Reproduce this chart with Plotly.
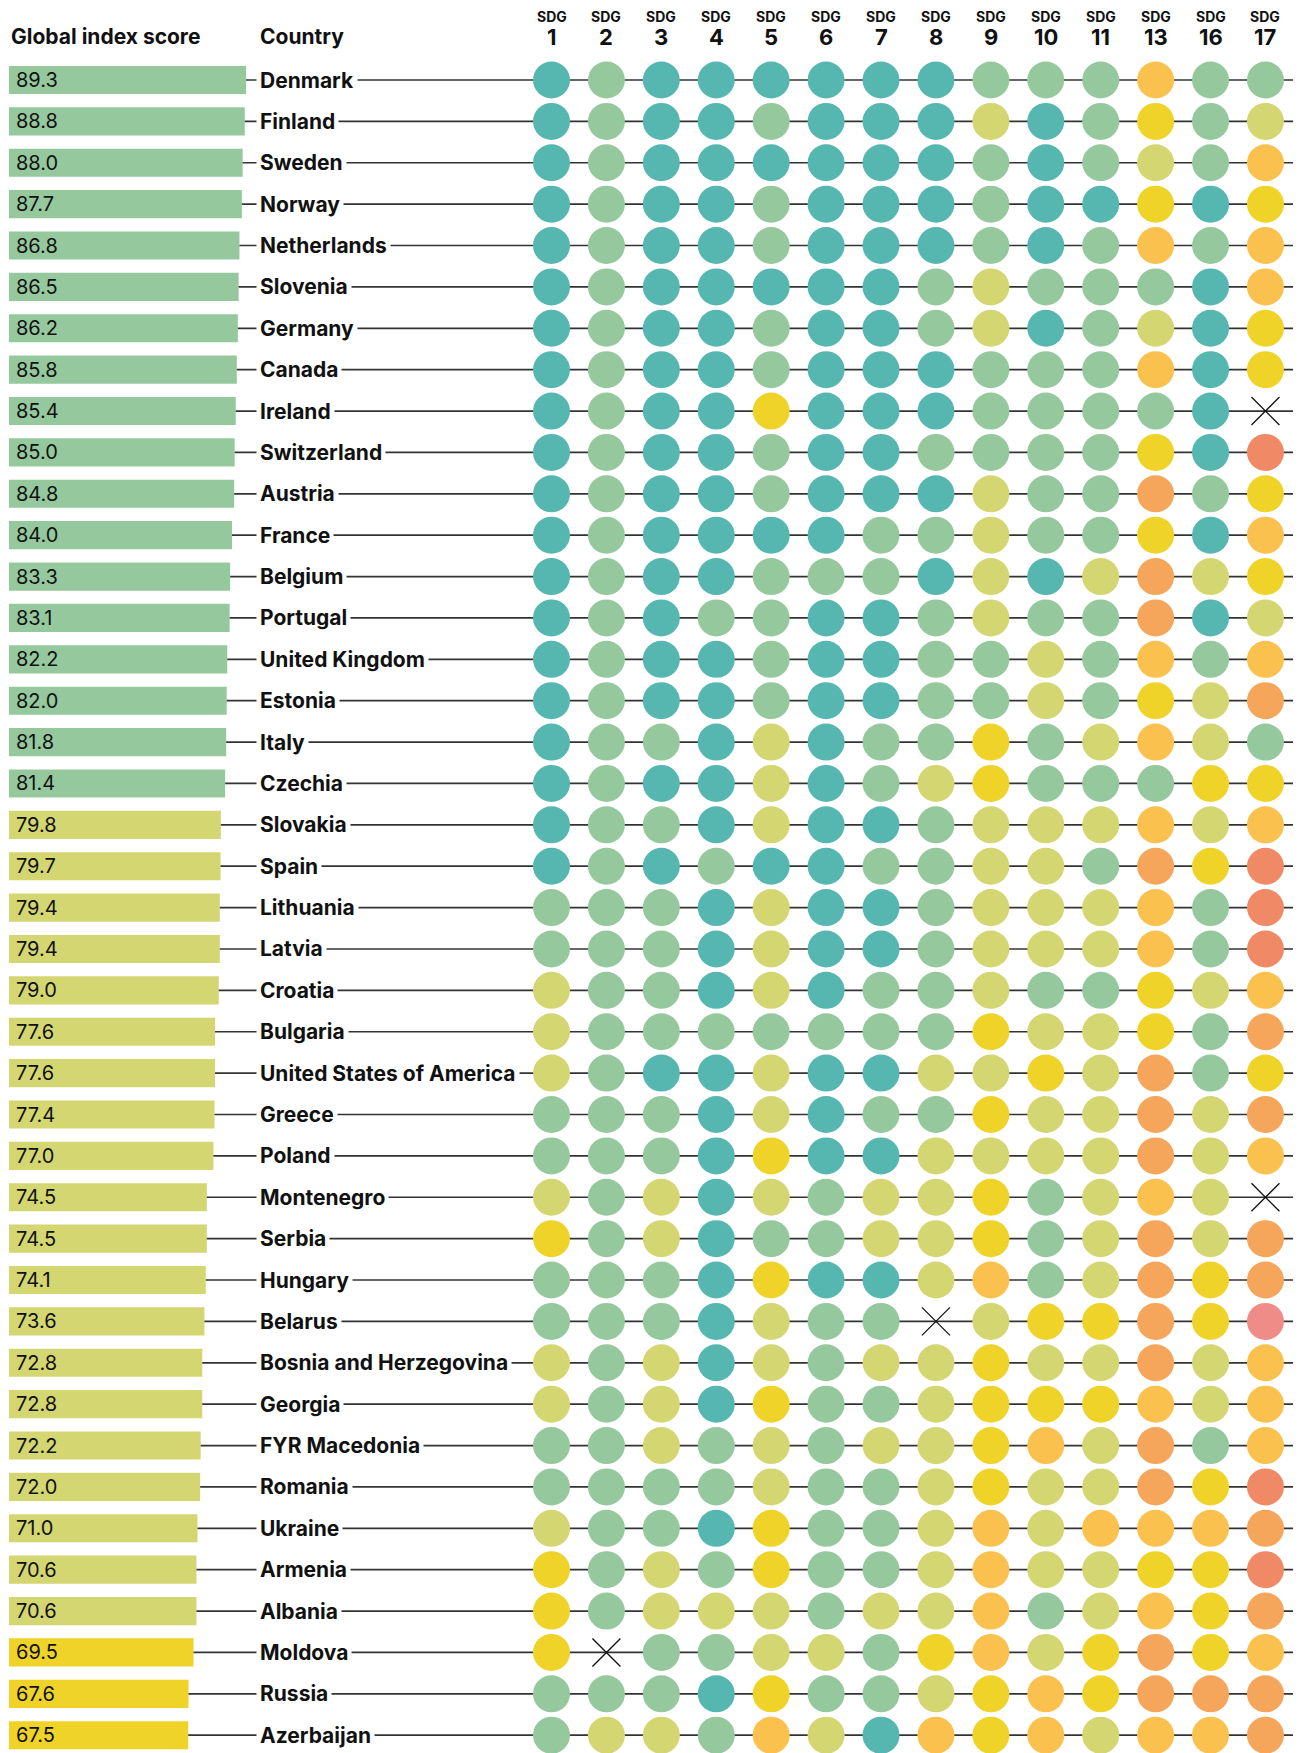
"""SDG index dashboard: global score bars and per-goal rating dots."""
import plotly.graph_objects as go

countries = [
    "Denmark", "Finland", "Sweden", "Norway", "Netherlands", "Slovenia",
    "Germany", "Canada", "Ireland", "Switzerland", "Austria", "France",
    "Belgium", "Portugal", "United Kingdom", "Estonia", "Italy", "Czechia",
    "Slovakia", "Spain", "Lithuania", "Latvia", "Croatia", "Bulgaria",
    "United States of America", "Greece", "Poland", "Montenegro", "Serbia",
    "Hungary", "Belarus", "Bosnia and Herzegovina", "Georgia", "FYR Macedonia",
    "Romania", "Ukraine", "Armenia", "Albania", "Moldova", "Russia", "Azerbaijan",
]
scores = [
    89.3, 88.8, 88.0, 87.7, 86.8, 86.5, 86.2, 85.8, 85.4, 85.0, 84.8, 84.0,
    83.3, 83.1, 82.2, 82.0, 81.8, 81.4, 79.8, 79.7, 79.4, 79.4, 79.0, 77.6,
    77.6, 77.4, 77.0, 74.5, 74.5, 74.1, 73.6, 72.8, 72.8, 72.2, 72.0, 71.0,
    70.6, 70.6, 69.5, 67.6, 67.5,
]
sdg_labels = ["1", "2", "3", "4", "5", "6", "7", "8", "9", "10", "11", "13", "16", "17"]

# one letter per goal, in sdg_labels order; X = no data
sdg_ratings = [
    "TGTTTTTTGGGOGG",  # Denmark
    "TGTTGTTTYTGZGY",  # Finland
    "TGTTTTTTGTGYGO",  # Sweden
    "TGTTGTTTGTTZTZ",  # Norway
    "TGTTGTTTGTGOGO",  # Netherlands
    "TGTTTTTGYGGGTO",  # Slovenia
    "TGTTGTTGYTGYTZ",  # Germany
    "TGTTGTTTGGGOTZ",  # Canada
    "TGTTZTTTGGGGTX",  # Ireland
    "TGTTGTTGGGGZTR",  # Switzerland
    "TGTTGTTTYGGPGZ",  # Austria
    "TGTTTTGGYGGZTO",  # France
    "TGTTGGGTYTYPYZ",  # Belgium
    "TGTGGTTGYGGPTY",  # Portugal
    "TGTTGTTGGYGOGO",  # United Kingdom
    "TGTTGTTGGYGZYP",  # Estonia
    "TGGTYTGGZGYOYG",  # Italy
    "TGTTYTGYZGGGZZ",  # Czechia
    "TGGTYTTGYYYOYO",  # Slovakia
    "TGTGTTGGYYGPZR",  # Spain
    "GGGTYTTGYYYOGR",  # Lithuania
    "GGGTYTTGYYYOGR",  # Latvia
    "YGGTYTGGYGGZYO",  # Croatia
    "YGGGGGGGZYYZGP",  # Bulgaria
    "YGTTYTTYYZYPGZ",  # United States of America
    "GGGTYTGGZYYPYP",  # Greece
    "GGGTZTTYYYYPYO",  # Poland
    "YGYTYGYYZGYOYX",  # Montenegro
    "ZGYTGGYYZGYPYP",  # Serbia
    "GGGTZTTYOGYPZP",  # Hungary
    "GGGTYGGXYZZPZK",  # Belarus
    "YGYTYGYYZYYPYO",  # Bosnia and Herzegovina
    "YGYTZGGYZZZOYO",  # Georgia
    "GGYGYGYYZOYPGO",  # FYR Macedonia
    "GGGGYGGYZYYPZR",  # Romania
    "YGGTZGGYOYOOOP",  # Ukraine
    "ZGYGZGGYOYYZZR",  # Armenia
    "ZGYYYGYYOGYOZP",  # Albania
    "ZXGGYYGZOYZPZO",  # Moldova
    "GGGTZGGYZOZPPP",  # Russia
    "GYYGOYTOZOYOOP",  # Azerbaijan
]

rating_colors = {
    "T": "#55B7B0",
    "G": "#95C99D",
    "Y": "#D4D672",
    "Z": "#EFD329",
    "O": "#FBC14E",
    "P": "#F5A65A",
    "R": "#F08A66",
    "K": "#F08C88",
}

# pixel layout (page pixels); the page body adds an 8px margin, so shift back by it
PAGE_W, PAGE_H, PAGE_PAD = 1301, 1753, 8
W, H = PAGE_W - PAGE_PAD, PAGE_H - PAGE_PAD
ROW0_PX, ROW_PX = 80 - PAGE_PAD, 41.38
BAR0_PX, BAR_PX_PER_POINT = 9 - PAGE_PAD, 2.655
COL0_PX, COL_PX = 551.5 - PAGE_PAD, 54.92
LINE_END_PX = 1296 - PAGE_PAD
NAME_PX = 256 - PAGE_PAD
FONT = "Inter, Roboto, sans-serif"
NARROW = "Liberation Sans Narrow, Inter, sans-serif"


def score_color(s):
    if s >= 80:
        return rating_colors["G"]
    if s >= 70:
        return rating_colors["Y"]
    return rating_colors["Z"]


def row_of_px(px):
    return (px - PAGE_PAD - ROW0_PX) / ROW_PX


rows = list(range(len(countries)))
line_end = (LINE_END_PX - BAR0_PX) / BAR_PX_PER_POINT

fig = go.Figure()

# connector lines, from bar end to the right edge
lx, ly = [], []
for i, s in zip(rows, scores):
    lx += [s, line_end, None]
    ly += [i, i, None]
fig.add_trace(go.Scatter(x=lx, y=ly, mode="lines", line=dict(color="#333", width=1.7),
                         hoverinfo="skip", xaxis="x", yaxis="y"))

fig.add_trace(go.Bar(x=scores, y=rows, orientation="h", width=0.68,
                     marker=dict(color=[score_color(s) for s in scores], line_width=0),
                     xaxis="x", yaxis="y"))

dx, dy, dc, mx, my = [], [], [], [], []
for i, ratings in enumerate(sdg_ratings):
    for j, r in enumerate(ratings):
        if r == "X":
            mx.append(j)
            my.append(i)
        else:
            dx.append(j)
            dy.append(i)
            dc.append(rating_colors[r])

fig.add_trace(go.Scatter(x=dx, y=dy, mode="markers",
                         marker=dict(size=37, color=dc, line_width=0),
                         xaxis="x2", yaxis="y"))
fig.add_trace(go.Scatter(x=mx, y=my, mode="markers",
                         marker=dict(symbol="x-thin", size=28, line=dict(color="#111", width=1.3)),
                         xaxis="x2", yaxis="y"))

annotations = []
for i, (c, s) in enumerate(zip(countries, scores)):
    annotations.append(dict(x=0, y=i, xref="x", yref="y", text=f"{s:.1f}", showarrow=False,
                            xanchor="left", xshift=5,
                            font=dict(family=FONT, size=20, color="#111")))
    annotations.append(dict(x=NAME_PX / W, y=i, xref="paper", yref="y", text=c, showarrow=False,
                            xanchor="left", bgcolor="white", borderpad=3,
                            font=dict(family=FONT, size=21, color="#111", weight=700)))

head_y = row_of_px(36)
annotations.append(dict(x=BAR0_PX / W, y=head_y, xref="paper", yref="y", text="Global index score",
                        showarrow=False, xanchor="left",
                        font=dict(family=FONT, size=21, color="#111", weight=700)))
annotations.append(dict(x=(258 - PAGE_PAD) / W, y=head_y, xref="paper", yref="y", text="Country",
                        showarrow=False, xanchor="left",
                        font=dict(family=FONT, size=21, color="#111", weight=700)))
for j, lab in enumerate(sdg_labels):
    annotations.append(dict(x=j, y=row_of_px(16.5), xref="x2", yref="y", text="SDG",
                            showarrow=False, borderpad=0,
                            font=dict(family=NARROW, size=14, color="#111", weight=700)))
    annotations.append(dict(x=j, y=row_of_px(37), xref="x2", yref="y", text=lab,
                            showarrow=False, borderpad=0,
                            font=dict(family=NARROW, size=22, color="#111", weight=700)))

fig.update_layout(
    width=W, height=H,
    margin=dict(l=0, r=0, t=0, b=0),
    paper_bgcolor="white", plot_bgcolor="white",
    showlegend=False,
    xaxis=dict(range=[-BAR0_PX / BAR_PX_PER_POINT, (W - BAR0_PX) / BAR_PX_PER_POINT],
               visible=False, fixedrange=True),
    xaxis2=dict(range=[-COL0_PX / COL_PX, (W - COL0_PX) / COL_PX], overlaying="x",
                visible=False, fixedrange=True),
    yaxis=dict(range=[(H - ROW0_PX) / ROW_PX, -ROW0_PX / ROW_PX], visible=False, fixedrange=True),
    annotations=annotations,
)

fig.write_html("out.html")
